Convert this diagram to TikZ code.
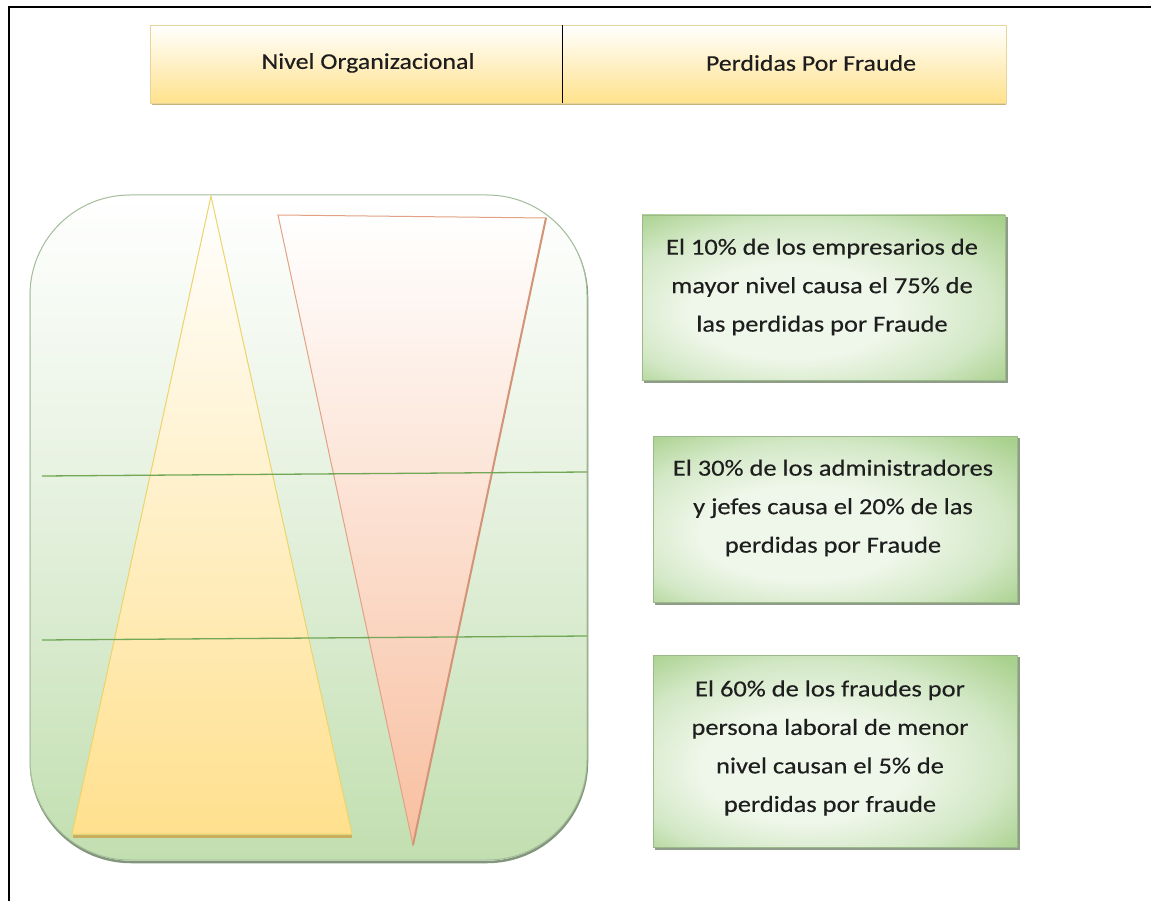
\documentclass[tikz,border=0pt]{standalone}
\usepackage{fontspec}
\setmainfont{Carlito}[FakeStretch=1.15,FakeBold=0.35]
\definecolor{panelgreen}{HTML}{C2DFB0}
\definecolor{panelmid}{HTML}{E3F0DC}
\definecolor{paneledge}{HTML}{A3BC9A}
\definecolor{yelfill}{HTML}{FFE08E}
\definecolor{yeledge}{HTML}{EDD46A}
\definecolor{yelshadow}{HTML}{C9AE5E}
\definecolor{pinkfill}{HTML}{F8BFA0}
\definecolor{pinkedge}{HTML}{E2A184}
\definecolor{pinkdark}{HTML}{D39477}
\definecolor{linegreen}{HTML}{72A855}
\definecolor{hdrfill}{HTML}{FFE28C}
\definecolor{hdredge}{HTML}{E6D49A}
\definecolor{hdrshadow}{HTML}{C8B27A}
\definecolor{notegreen}{HTML}{A9D18E}
\definecolor{notemid}{HTML}{D3E8C6}
\definecolor{notepale}{HTML}{EFF7EA}
\definecolor{noteedge}{HTML}{9BB98B}
\definecolor{noteshadow}{HTML}{8E9C88}
\definecolor{txt}{HTML}{1E1E1E}
\pgfdeclareradialshading{noteshade}{\pgfpoint{-6bp}{-6bp}}{%
  color(0bp)=(notepale); color(14bp)=(notepale); color(26bp)=(notemid); color(36bp)=(notegreen); color(50bp)=(notegreen)}
\tikzset{
  hdrtext/.style={font=\fontsize{22.5}{26}\selectfont, text=txt, inner sep=0pt},
  notetext/.style={font=\fontsize{23}{38.5}\selectfont, text=txt, align=center, inner sep=0pt},
  notebox/.style={shading=noteshade, draw=noteedge, line width=0.8pt},
  boxshadow/.style={draw=noteshadow, line width=2pt},
  divline/.style={linegreen, line width=1.3pt}
}
\begin{document}
\begin{tikzpicture}[x=1pt,y=-1pt]
\useasboundingbox (0,0) rectangle (1151,901);
\fill[white] (0,0) rectangle (1151,901);
% outer frame
\coordinate (fb) at (9,901);
\coordinate (fc) at (9,7);
\coordinate (fr) at (1151,7);
\draw[black, line width=1.6pt] (fb) -- (fc) -- (fr);

% header
\draw[hdrshadow, line width=2.5pt] (152,104) -- (1006,104);
\path[top color=white, bottom color=hdrfill, draw=hdredge, line width=0.8pt] (150,25) rectangle (1006,103);
\coordinate (dt) at (562,25);
\coordinate (db) at (562,103);
\draw[black, line width=1pt] (dt) -- (db);
\node[hdrtext] (h1) at (368,63) {Nivel Organizacional};
\node[hdrtext] (h2) at (811,63) {Perdidas Por Fraude};

% panel
\draw[paneledge!80!black, line width=2.5pt, rounded corners=100pt] (31,197) rectangle (587,862);
\path[top color=white, bottom color=panelgreen, middle color=panelmid, draw=paneledge, line width=1pt, rounded corners=100pt] (30,195) rectangle (587,860);

% yellow triangle
\draw[yelshadow, line width=3pt] (73,836) -- (352,836);
\path[top color=white, bottom color=yelfill, draw=yeledge, line width=1pt] (211,196) -- (352,834) -- (72,834) -- cycle;

% pink triangle
\path[top color=white, bottom color=pinkfill, draw=pinkedge, line width=1pt] (278,215) -- (546,218) -- (413,845) -- cycle;
\draw[pinkdark, line width=2pt] (546,218) -- (413,845);

% green divider lines
\coordinate (l1a) at (42,476);
\coordinate (l1b) at (587,472);
\coordinate (l2a) at (42,640);
\coordinate (l2b) at (587,636);
\draw[divline] (l1a) -- (l1b);
\draw[divline] (l2a) -- (l2b);

% note boxes
\draw[boxshadow] (644,382) -- (1007,382) -- (1007,217);
\path[notebox] (642,215) rectangle (1005,380);
\node[notetext] (n1) at (822,287) {El 10\% de los empresarios de\\mayor nivel causa el 75\% de\\las perdidas por Fraude};

\draw[boxshadow] (655,604) -- (1019,604) -- (1019,438);
\path[notebox] (653,436) rectangle (1017,602);
\node[notetext] (n2) at (833,508) {El 30\% de los administradores\\y jefes causa el 20\% de las\\perdidas por Fraude};

\draw[boxshadow] (655,849) -- (1019,849) -- (1019,657);
\path[notebox] (653,655) rectangle (1017,847);
\node[notetext] (n3) at (830,748) {El 60\% de los fraudes por\\persona laboral de menor\\nivel causan el 5\% de\\perdidas por fraude};
\end{tikzpicture}
\end{document}
